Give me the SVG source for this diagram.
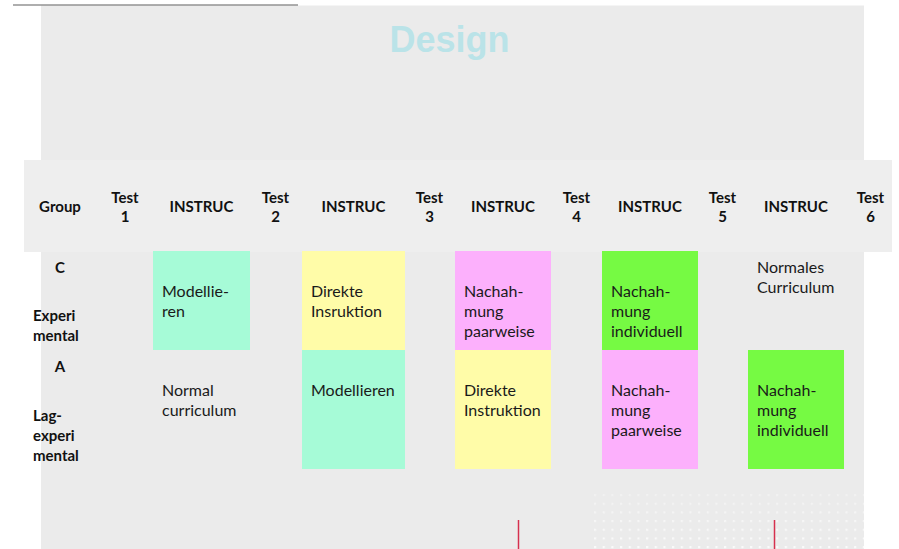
<svg xmlns="http://www.w3.org/2000/svg" width="899" height="549" viewBox="0 0 899 549">
<style>
.h{font-family:Lato,"Liberation Sans",sans-serif;font-size:15px;font-weight:bold;fill:#111;text-anchor:middle}
.l{font-family:Lato,"Liberation Sans",sans-serif;font-size:15px;font-weight:bold;fill:#111}
.t{font-family:Lato,"Liberation Sans",sans-serif;font-size:16px;fill:#1a1a1a}
.teal{fill:#A6FBD7}.yel{fill:#FFFCA8}.pink{fill:#FCB0FC}.grn{fill:#76FA43}
</style>
<defs>
<pattern id="dots" x="594" y="494" width="8.67" height="8.67" patternUnits="userSpaceOnUse">
<rect x="0" y="0" width="2.2" height="2.2" fill="#FAFAFA"/>
</pattern>
<linearGradient id="fade" x1="0" y1="0" x2="0" y2="1">
<stop offset="0" stop-color="#fff" stop-opacity="0.35"/>
<stop offset="1" stop-color="#fff" stop-opacity="1"/>
</linearGradient>
<mask id="m"><rect x="590" y="490" width="280" height="60" fill="url(#fade)"/></mask>
</defs>
<rect width="899" height="549" fill="#fff"/>
<rect id="panel" x="41" y="5.5" width="823" height="543.5" fill="#EBEBEB"/>
<line x1="13" y1="5" x2="298" y2="5" stroke="#5f5f5f" stroke-width="1.2"/>
<text x="449.5" y="52" font-family="'Liberation Sans',Arial,sans-serif" font-size="36" font-weight="bold" fill="#BAE3E8" text-anchor="middle">Design</text>
<g id="header">
<rect x="24" y="160" width="868" height="92" fill="#EEEEEE"/>
<text class="h" x="60" y="212">Group</text>
<text class="h" x="125" y="203">Test</text><text class="h" x="125" y="222">1</text>
<text class="h" x="201.5" y="212">INSTRUC</text>
<text class="h" x="275.5" y="203">Test</text><text class="h" x="275.5" y="222">2</text>
<text class="h" x="353.5" y="212">INSTRUC</text>
<text class="h" x="429.5" y="203">Test</text><text class="h" x="429.5" y="222">3</text>
<text class="h" x="503" y="212">INSTRUC</text>
<text class="h" x="576.5" y="203">Test</text><text class="h" x="576.5" y="222">4</text>
<text class="h" x="650" y="212">INSTRUC</text>
<text class="h" x="722.5" y="203">Test</text><text class="h" x="722.5" y="222">5</text>
<text class="h" x="796" y="212">INSTRUC</text>
<text class="h" x="870.5" y="203">Test</text><text class="h" x="870.5" y="222">6</text>
</g>
<g id="group-c">
<text class="h" x="60" y="273">C</text>
<text class="l" x="33" y="321">Experi</text>
<text class="l" x="33" y="341">mental</text>
</g>
<g id="group-a">
<text class="h" x="60" y="372">A</text>
<text class="l" x="33" y="421">Lag-</text>
<text class="l" x="33" y="441">experi</text>
<text class="l" x="33" y="461">mental</text>
</g>
<g id="c1">
<rect class="teal" x="153" y="251" width="97" height="99"/>
<text class="t" x="162" y="297">Modellie-</text><text class="t" x="162" y="317">ren</text>
</g>
<g id="c2">
<rect class="yel" x="302" y="251" width="103" height="99"/>
<text class="t" x="311" y="297">Direkte</text><text class="t" x="311" y="317">Insruktion</text>
</g>
<g id="c3">
<rect class="pink" x="455" y="251" width="96" height="99"/>
<text class="t" x="464" y="297">Nachah-</text><text class="t" x="464" y="317">mung</text><text class="t" x="464" y="337">paarweise</text>
</g>
<g id="c4">
<rect class="grn" x="602" y="251" width="96" height="99"/>
<text class="t" x="611" y="297">Nachah-</text><text class="t" x="611" y="317">mung</text><text class="t" x="611" y="337">individuell</text>
</g>
<g id="c5">
<text class="t" x="757" y="273">Normales</text><text class="t" x="757" y="293">Curriculum</text>
</g>
<g id="a1">
<text class="t" x="162" y="396">Normal</text><text class="t" x="162" y="416">curriculum</text>
</g>
<g id="a2">
<rect class="teal" x="302" y="350" width="103" height="119"/>
<text class="t" x="311" y="396">Modellieren</text>
</g>
<g id="a3">
<rect class="yel" x="455" y="350" width="96" height="119"/>
<text class="t" x="464" y="396">Direkte</text><text class="t" x="464" y="416">Instruktion</text>
</g>
<g id="a4">
<rect class="pink" x="602" y="350" width="96" height="119"/>
<text class="t" x="611" y="396">Nachah-</text><text class="t" x="611" y="416">mung</text><text class="t" x="611" y="436">paarweise</text>
</g>
<g id="a5">
<rect class="grn" x="748" y="350" width="96" height="119"/>
<text class="t" x="757" y="396">Nachah-</text><text class="t" x="757" y="416">mung</text><text class="t" x="757" y="436">individuell</text>
</g>
<rect x="592" y="492" width="272" height="57" fill="url(#dots)" mask="url(#m)"/>
<g id="connectors">
<line x1="518.5" y1="520" x2="518.5" y2="549" stroke="#D6304E" stroke-width="1.5"/>
<line x1="774.5" y1="520" x2="774.5" y2="549" stroke="#D6304E" stroke-width="1.5"/>
</g>
</svg>
